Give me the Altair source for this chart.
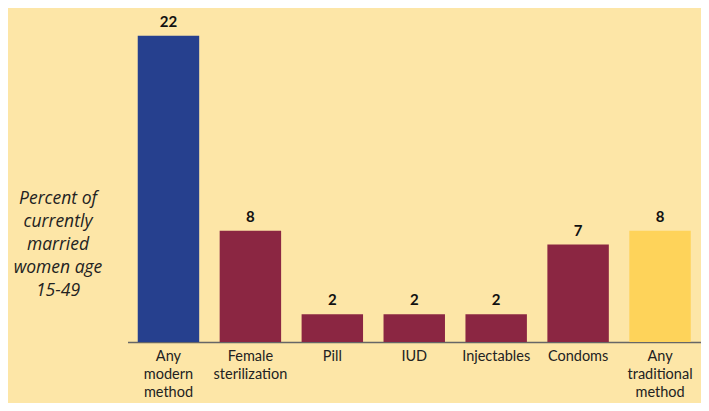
import altair as alt
import pandas as pd

categories = ["Any\nmodern\nmethod", "Female\nsterilization", "Pill", "IUD",
              "Injectables", "Condoms", "Any\ntraditional\nmethod"]
values = [22, 8, 2, 2, 2, 7, 8]
colors = ["#26408E", "#8B2642", "#8B2642", "#8B2642", "#8B2642", "#8B2642", "#FED35A"]
y_title = ["Percent of", "currently", "married", "women age", "15-49"]

df = pd.DataFrame({"cat": categories, "val": values})

xscale = alt.Scale(paddingInner=0.25, paddingOuter=0.125)
x = alt.X("cat:N", sort=categories, scale=xscale,
          axis=alt.Axis(title=None, labelAngle=0, ticks=False,
                        labelExpr="split(datum.label, '\\n')",
                        labelFont="Lato", labelFontSize=14.5, labelColor="#222222",
                        labelLineHeight=18, labelPadding=7, labelBaseline="top",
                        labelBound=False, labelOverlap=False,
                        domainColor="#666666", domainWidth=1.5))
y = alt.Y("val:Q", scale=alt.Scale(domain=[0, 24], nice=False),
          axis=alt.Axis(title=y_title, titleAngle=0, titleAlign="center",
                        titleBaseline="middle", titleX=-70, titleY=190,
                        titleFont="Open Sans", titleFontStyle="italic",
                        titleFontWeight="normal", titleFontSize=17.5,
                        titleLineHeight=23, titleColor="#222222",
                        labels=False, ticks=False, domain=False, grid=False))

base = alt.Chart(df)
bars = base.mark_bar().encode(
    x=x, y=y,
    color=alt.Color("cat:N", scale=alt.Scale(domain=categories, range=colors), legend=None),
)
text = base.mark_text(dy=-9, baseline="alphabetic", font="Lato", fontWeight="bold",
                      fontSize=15, color="#111111").encode(
    x=alt.X("cat:N", sort=categories), y="val:Q", text="val:Q")

chart = alt.layer(bars, text).properties(
    width=573.5, height=334,
    background="#FDE6A7",
    autosize=alt.AutoSizeParams(type="none"),
    padding={"left": 119.5, "top": 0, "right": 0, "bottom": 61},
).configure_view(stroke=None)

chart.save("out.html", embed_options={"renderer": "svg", "actions": False})
